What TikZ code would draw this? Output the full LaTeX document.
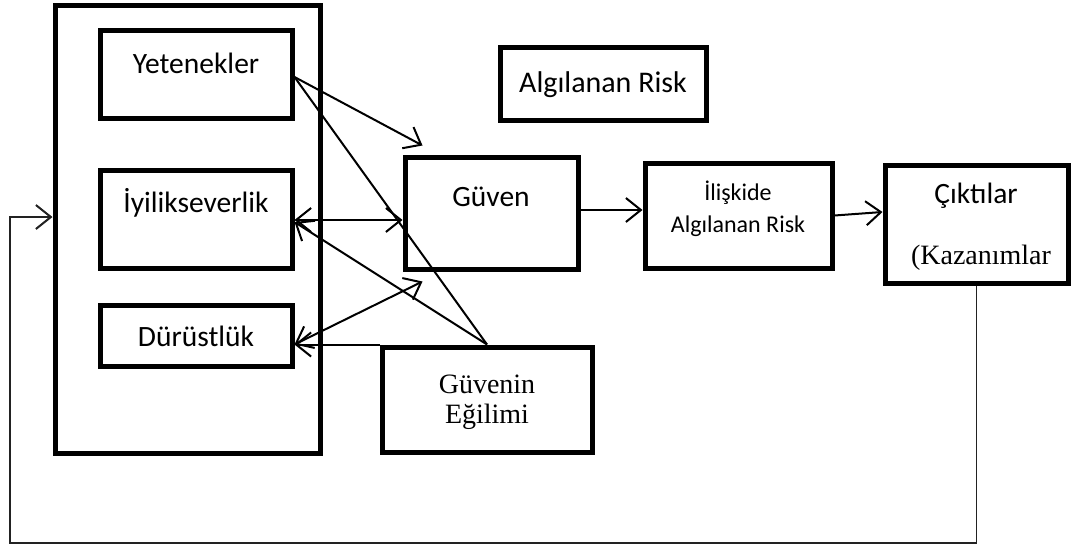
\documentclass[tikz,border=0pt]{standalone}
\usepackage{fontspec}
\setmainfont{Liberation Serif}
\setsansfont{Carlito}
\usetikzlibrary{arrows.meta,calc}
\definecolor{diagInk}{HTML}{000000}
\definecolor{loopInk}{HTML}{222222}
\tikzset{
  box/.style={draw=diagInk,line width=5pt,inner sep=0pt,fill=none},
  label/.style={text=diagInk,font=\sffamily\fontsize{29.5}{34}\selectfont,inner sep=0pt},
  serifLabel/.style={text=diagInk,font=\rmfamily\fontsize{28}{30}\selectfont,align=center,inner sep=0pt},
  link/.style={-{Straight Barb[length=15pt,width=24pt,line width=2pt]},draw=diagInk,line width=2pt},
  duplex/.style={{Straight Barb[length=15pt,width=24pt,line width=2pt]}-{Straight Barb[length=15pt,width=24pt,line width=2pt]},draw=diagInk,line width=2pt},
  plain/.style={draw=diagInk,line width=2pt},
  feedback/.style={-{Straight Barb[length=15pt,width=24pt,line width=2pt]},draw=loopInk,line width=1.6pt},
}
\begin{document}
\begin{tikzpicture}[x=1pt,y=-1pt]
  \useasboundingbox (0,0) rectangle (1076,546);
  % group of trust antecedents
  \node[box,minimum width=265pt,minimum height=448pt] (group) at (187.5,229) {};
  \node[box,minimum width=192pt,minimum height=88pt] (yet) at (196,74) {};
  \node[label] (yetText) at (196,63) {Yetenekler};
  \node[box,minimum width=192pt,minimum height=98pt] (iyi) at (196,219) {};
  \node[label] (iyiText) at (196,203) {İyilikseverlik};
  \node[box,minimum width=192pt,minimum height=61pt] (dur) at (196,335.5) {};
  \node[label] (durText) at (196,336) {Dürüstlük};
  % perceived risk, trust and outcomes
  \node[box,minimum width=206pt,minimum height=73pt] (alg) at (603,83.5) {};
  \node[label,font=\sffamily\fontsize{30}{34}\selectfont] (algText) at (603,85) {Algılanan Risk};
  \node[box,minimum width=173pt,minimum height=112pt] (guv) at (491.5,213) {};
  \node[label] (guvText) at (491,197) {Güven};
  \node[box,minimum width=187pt,minimum height=105pt] (ilis) at (738.5,215.5) {};
  \node[label,font=\sffamily\fontsize{24}{32}\selectfont,align=center] (ilisText) at (738,209) {İlişkide\\Algılanan Risk};
  \node[box,minimum width=183pt,minimum height=118pt] (cik) at (976.5,224) {};
  \node[label] (cikText) at (976,196) {Çıktılar};
  \node[serifLabel] (kazText) at (981,258) {(Kazanımlar};
  \node[box,minimum width=210pt,minimum height=105pt] (egi) at (487,399.5) {};
  \node[serifLabel] (egiText) at (487,402) {Güvenin\\Eğilimi};
  % connectors
  \coordinate (yetOut) at ($(yet.east)+(0,3)$);
  \coordinate (guvTop) at ($(guv.north west)+(20,-9)$);
  \coordinate (guvLow) at ($(guv.south west)+(20,10)$);
  \coordinate (durIn) at (egi.north west -| dur.east);
  \coordinate (iyiOut) at ($(iyi.east)+(0,1)$);
  \coordinate (iyiBack) at ($(iyi.east)+(0,3)$);
  \coordinate (guvOut) at ($(guv.east)+(0,-3)$);
  \coordinate (cikIn) at ($(cik.west)+(0,-12)$);
  \draw[link] (yetOut) -- (guvTop);
  \draw[plain] (yetOut) -- (egi.north);
  \draw[duplex] (iyiOut) -- (iyiOut -| guv.west);
  \draw[link] (egi.north) -- (iyiBack);
  \draw[duplex] (durIn) -- (guvLow);
  \draw[link] (egi.north west) -- (durIn);
  \draw[link] (guvOut) -- (guvOut -| ilis.west);
  \draw[link] (ilis.east) -- (cikIn);
  % feedback loop
  \coordinate (loopCorner) at (10,543);
  \coordinate (loopIn) at ($(group.west)+(0,-12)$);
  \draw[feedback] (cik.south) |- (loopCorner) |- (loopIn);
\end{tikzpicture}
\end{document}
